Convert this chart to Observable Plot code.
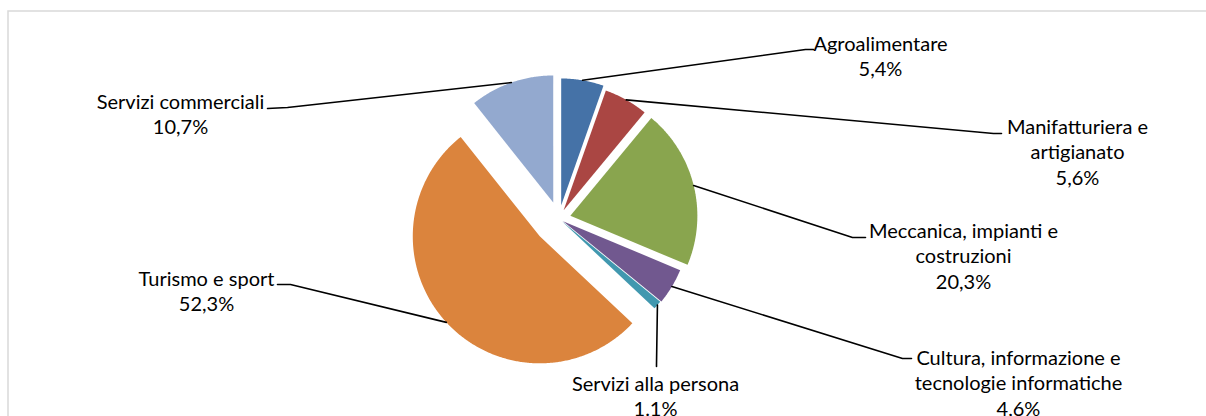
<!DOCTYPE html>
<html><head><meta charset="utf-8">
<script src="https://cdn.jsdelivr.net/npm/d3@7"></script>
<script src="https://cdn.jsdelivr.net/npm/@observablehq/plot@0.6"></script>
<style>html,body{margin:0;padding:0;background:#fff}</style>
</head><body><div id="chart"></div>
<script>
// ---- data ----
const categories = ["Agroalimentare","Manifatturiera e artigianato","Meccanica, impianti e costruzioni","Cultura, informazione e tecnologie informatiche","Servizi alla persona","Turismo e sport","Servizi commerciali"];
const values = [5.4, 5.6, 20.3, 4.6, 1.1, 52.3, 10.7];
const valueLabels = ["5,4%","5,6%","20,3%","4,6%","1.1%","52,3%","10,7%"];
const labelLines = [["Agroalimentare"],["Manifatturiera e","artigianato"],["Meccanica, impianti e","costruzioni"],["Cultura, informazione e","tecnologie informatiche"],["Servizi alla persona"],["Turismo e sport"],["Servizi commerciali"]];
const colors = ["#4572A7","#AA4643","#89A54E","#71588F","#4198AF","#DB843D","#93A9CF"];

// ---- layout (pixels) ----
const W = 1206, H = 416, CX = 558.4, CY = 218.2, R = 127;
const explode = [13.4, 9.6, 11.8, 4.8, 4, 26, 17.2];
const labelPos = [
  {x: 880,  y: 50,  elbow: [805, 49],  stub: [813, 49]},
  {x: 1077, y: 133, elbow: [993, 133], stub: [1001, 133]},
  {x: 963,  y: 237, elbow: [852, 237], stub: [865, 237]},
  {x: 1018, y: 364, elbow: [902, 358], stub: [911, 358]},
  {x: 655,  y: 390, elbow: [656, 364], stub: [656, 366]},
  {x: 206,  y: 285, elbow: [290, 284], stub: [277, 284]},
  {x: 180,  y: 108, elbow: [287, 107], stub: [267, 108]}
];
const lineGap = 25.5, fontSize = 20;

const arcs = d3.pie().sort(null).value(d => d)(values);
const slicePts = [], leaderPts = [], textRows = [];
arcs.forEach((a, i) => {
  const name = categories[i];
  const mid = (a.startAngle + a.endAngle) / 2;
  const ax = CX + explode[i] * Math.sin(mid), ay = CY - explode[i] * Math.cos(mid);
  slicePts.push({name, x: ax, y: ay});
  const n = Math.max(2, Math.ceil((a.endAngle - a.startAngle) * 180 / Math.PI * 2));
  for (let k = 0; k <= n; k++) {
    const t = a.startAngle + (a.endAngle - a.startAngle) * k / n;
    slicePts.push({name, x: ax + R * Math.sin(t), y: ay - R * Math.cos(t)});
  }
  const p = labelPos[i];
  leaderPts.push({name, x: ax + R * Math.sin(mid), y: ay - R * Math.cos(mid)});
  leaderPts.push({name, x: p.elbow[0], y: p.elbow[1]});
  leaderPts.push({name, x: p.stub[0], y: p.stub[1]});
  const lines = [...labelLines[i], valueLabels[i]];
  lines.forEach((s, j) => textRows.push({x: p.x, y: p.y + j * lineGap, text: s}));
});

const plot = Plot.plot({
  width: W, height: H, margin: 0,
  x: {domain: [0, W], axis: null},
  y: {domain: [0, H], reverse: true, axis: null},
  color: {domain: categories, range: colors},
  style: {fontFamily: "Lato, sans-serif", fontSize: fontSize + "px", color: "#000", background: "#fff"},
  marks: [
    Plot.frame({stroke: "#d9d9d9", strokeWidth: 1.5, insetLeft: 7.5, insetTop: 10.5, insetRight: -5, insetBottom: -5}),
    Plot.line(slicePts, {x: "x", y: "y", z: "name", fill: "name", stroke: "none", curve: "linear"}),
    Plot.line(leaderPts, {x: "x", y: "y", z: "name", stroke: "#000", strokeWidth: 1.6, curve: "linear"}),
    Plot.text(textRows, {x: "x", y: "y", text: "text", fill: "#000", fontSize, textAnchor: "middle", lineAnchor: "bottom"})
  ]
});
document.getElementById("chart").appendChild(plot);
</script>
</body></html>
